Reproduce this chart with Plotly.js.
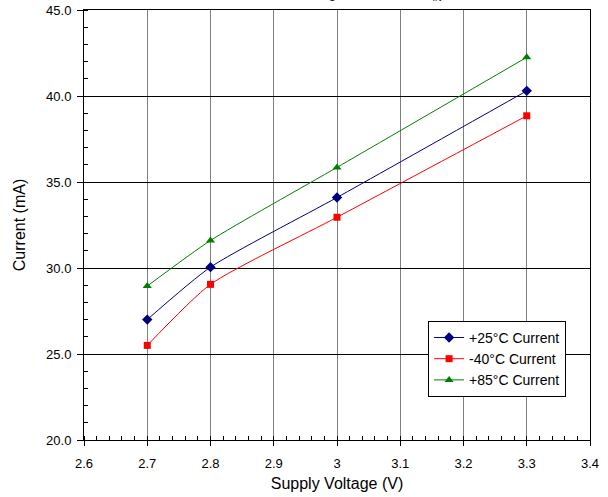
<!DOCTYPE html>
<html><head><meta charset="utf-8">
<script src="https://cdn.plot.ly/plotly-3.0.1.min.js"></script>
<style>body{margin:0;padding:0;background:#fff}#chart{width:608px;height:497px}</style>
</head><body><div id="chart"></div>
<script>
const voltages = [2.7, 2.8, 3.0, 3.3];
const current25 = [27.0, 30.05, 34.1, 40.3];
const currentM40 = [25.5, 29.05, 32.95, 38.85];
const current85 = [28.95, 31.6, 35.85, 42.25];
const seriesNames = ['+25°C Current', '-40°C Current', '+85°C Current'];
const xTicks = [2.6, 2.7, 2.8, 2.9, 3.0, 3.1, 3.2, 3.3, 3.4];
const xTickLabels = ['2.6', '2.7', '2.8', '2.9', '3', '3.1', '3.2', '3.3', '3.4'];
const titleText = 'TX Mode, CW Transmitting, f = 2.45 GHz, P<sub>IN</sub> = 0 dBm';

const font = 'Liberation Sans, Arial, sans-serif';
const traces = [
  {x: voltages, y: current25, name: seriesNames[0], mode: 'lines+markers',
   line: {color: '#000080', width: 1, shape: 'spline', smoothing: 0.6},
   marker: {symbol: 'diamond', size: 8, color: '#000080'}},
  {x: voltages, y: currentM40, name: seriesNames[1], mode: 'lines+markers',
   line: {color: '#FF0000', width: 1, shape: 'spline', smoothing: 0.6},
   marker: {symbol: 'square', size: 7, color: '#FF0000'}},
  {x: voltages, y: current85, name: seriesNames[2], mode: 'lines+markers',
   line: {color: '#008000', width: 1, shape: 'spline', smoothing: 0.6},
   marker: {symbol: 'triangle-up', size: 8, color: '#008000'}}
];
const layout = {
  width: 608, height: 497,
  margin: {l: 84, r: 18, t: 10, b: 57},
  paper_bgcolor: '#fff', plot_bgcolor: '#fff',
  font: {family: font, size: 13, color: '#000'},
  showlegend: true,
  legend: {x: 0.680, y: 0.277, xanchor: 'left', yanchor: 'top',
    bordercolor: '#000', borderwidth: 1, bgcolor: '#fff',
    font: {family: font, size: 14, color: '#000'}, tracegroupgap: 0},
  xaxis: {range: [2.6, 3.4], tickvals: xTicks, ticktext: xTickLabels,
    showgrid: true, gridcolor: '#808080', gridwidth: 1,
    showline: true, linecolor: '#000', linewidth: 1, mirror: true,
    ticks: 'outside', ticklen: 5, tickcolor: '#000', zeroline: false,
    ticklabelstandoff: 6,
    minor: {dtick: 0.02, ticks: 'inside', ticklen: 4, tickcolor: '#000', showgrid: false},
    tickfont: {family: font, size: 13},
    title: {text: 'Supply Voltage (V)', font: {family: font, size: 16}, standoff: 8}},
  yaxis: {range: [20, 45], dtick: 5, tickformat: '.1f',
    showgrid: true, gridcolor: '#000', gridwidth: 1,
    showline: true, linecolor: '#000', linewidth: 1, mirror: true,
    ticks: 'outside', ticklen: 6, tickcolor: '#000', zeroline: false,
    ticklabelstandoff: 3,
    minor: {dtick: 1, ticks: 'inside', ticklen: 4, tickcolor: '#000', showgrid: false},
    tickfont: {family: font, size: 13},
    title: {text: 'Current (mA)', font: {family: font, size: 16}, standoff: 16}},
  annotations: [{text: titleText, xref: 'paper', yref: 'paper', x: 0.5, y: 1, yshift: 5,
    xanchor: 'center', yanchor: 'bottom', showarrow: false,
    font: {family: font, size: 13, color: '#000'}}]
};
Plotly.newPlot('chart', traces, layout, {displayModeBar: false, staticPlot: true});
</script></body></html>
